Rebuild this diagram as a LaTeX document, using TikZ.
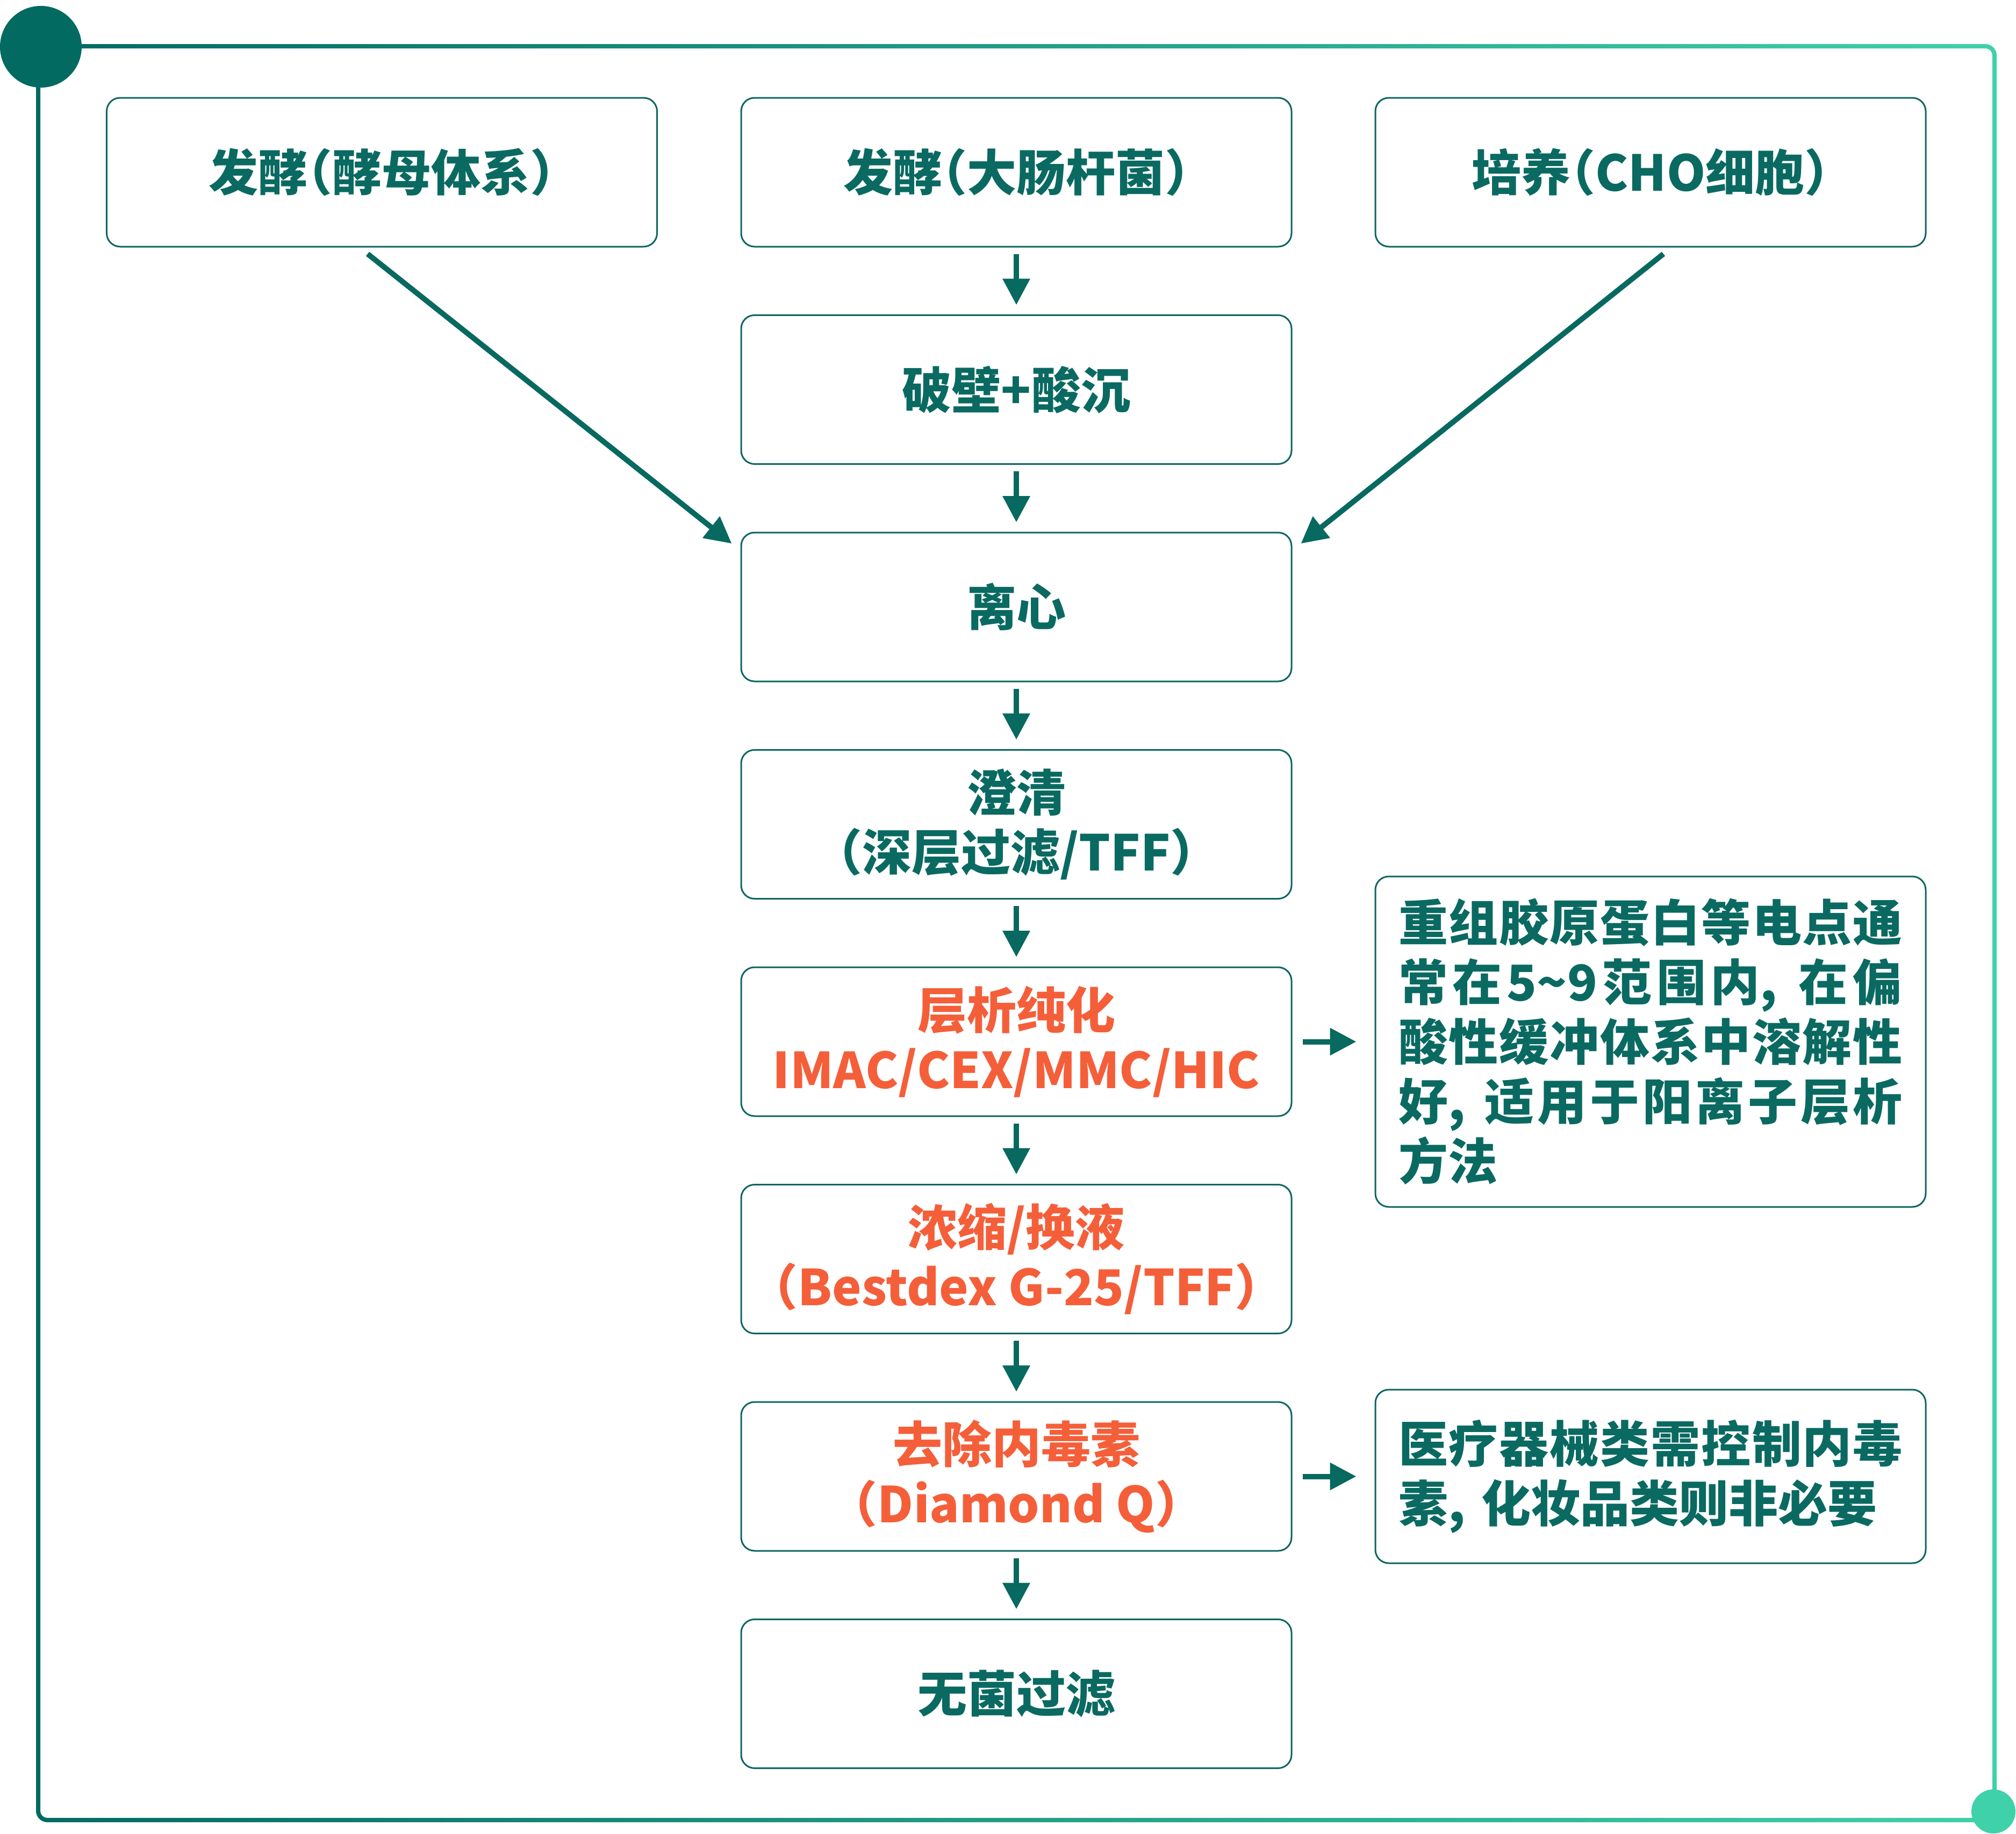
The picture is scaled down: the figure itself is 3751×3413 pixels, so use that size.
\documentclass[tikz,border=0pt]{standalone}
\usepackage{fontspec}
\setmainfont{Noto Sans CJK SC}[RawFeature=+halt]
\usetikzlibrary{arrows.meta,calc}
\definecolor{tealT}{HTML}{0A6A62}
\definecolor{boxC}{HTML}{0E6660}
\definecolor{arrC}{HTML}{07695F}
\definecolor{orangeT}{HTML}{F45F3A}
\definecolor{frameDark}{HTML}{036A62}
\definecolor{frameLight}{HTML}{3FD1AA}
\newcommand\boxfont{\fontsize{18.4pt}{22.2pt}\selectfont\bfseries}
\newcommand\jline[1]{\makebox[187.6pt][s]{#1}}
\begin{document}
\begin{tikzpicture}[x=0.2pt,y=-0.2pt,
  box/.style={draw=boxC, line width=0.6pt, rounded corners=5pt,
    minimum width=204.8pt, minimum height=55.4pt, align=center,
    inner sep=0pt, text=tealT, font=\boxfont},
  hot/.style={box, text=orangeT},
  note/.style={draw=boxC, line width=0.6pt, rounded corners=5pt,
    minimum width=204.8pt, inner sep=0pt, text=tealT, font=\boxfont,
    text width=187.6pt, align=left},
  arr/.style={draw=arrC, line width=2pt,
    -{Triangle[length=9.8pt,width=9.8pt]}},
  varr/.style={arr, shorten <=2.4pt, shorten >=3.5pt},
  harr/.style={arr, shorten <=3.8pt, shorten >=6.8pt}]
\fill[white] (0,0) rectangle (3751,3413);
\useasboundingbox (0,0) rectangle (3751,3413);
% frame with gradient
\shade[left color=frameDark, right color=frameLight, even odd rule]
  [rounded corners=4.2pt] (67,82) rectangle (3715,3391)
  [rounded corners=2.6pt] (75,90) rectangle (3707,3383);
\fill[frameDark] (76,87) circle (15.2pt);
\fill[frameLight] (3709,3371) circle (8.2pt);
% boxes
\node[box] (b1) at (710.5,320.5) {发酵（酵母体系）};
\node[box] (b2) at (1891,320.5) {发酵（大肠杆菌）};
\node[box] (b3) at (3071,320.5) {培养（CHO细胞）};
\node[box] (m2) at (1891,725) {破壁+酸沉};
\node[box] (m3) at (1891,1129.5) {离心};
\node[box] (m4) at (1891,1534) {澄清\\（深层过滤/TFF）};
\node[hot] (m5) at (1891,1938.5) {层析纯化\\IMAC/CEX/MMC/HIC};
\node[hot] (m6) at (1891,2343) {浓缩/换液\\（Bestdex G-25/TFF）};
\node[hot] (m7) at (1891,2747.5) {去除内毒素\\（Diamond Q）};
\node[box] (m8) at (1891,3152) {无菌过滤};
% notes
\node[note, minimum height=123pt] (n1) at (3071,1938.5) {%
\jline{重\hfil 组\hfil 胶\hfil 原\hfil 蛋\hfil 白\hfil 等\hfil 电\hfil 点\hfil 通}\\
\jline{常\hfil 在\hfil 5\textasciitilde 9\hfil 范\hfil 围\hfil 内,\ \hfil 在\hfil 偏}\\
\jline{酸\hfil 性\hfil 缓\hfil 冲\hfil 体\hfil 系\hfil 中\hfil 溶\hfil 解\hfil 性}\\
\jline{好,\ \hfil 适\hfil 用\hfil 于\hfil 阳\hfil 离\hfil 子\hfil 层\hfil 析}\\
方法};
\node[note, minimum height=64.6pt] (n2) at (3071,2747.5) {%
\jline{医\hfil 疗\hfil 器\hfil 械\hfil 类\hfil 需\hfil 控\hfil 制\hfil 内\hfil 毒}\\
素, 化妆品类则非必要};
% vertical arrows
\draw[varr] (b2.south) -- (m2.north);
\draw[varr] (m2.south) -- (m3.north);
\draw[varr] (m3.south) -- (m4.north);
\draw[varr] (m4.south) -- (m5.north);
\draw[varr] (m5.south) -- (m6.north);
\draw[varr] (m6.south) -- (m7.north);
\draw[varr] (m7.south) -- (m8.north);
% diagonal arrows
\coordinate (d1s) at ($(b1.south)+(-26.5,12)$);
\coordinate (d1e) at ($(m3.north west)+(-16,22)$);
\coordinate (d2s) at ($(b3.south)+(24,12)$);
\coordinate (d2e) at ($(m3.north east)+(16,22)$);
\draw[arr] (d1s) -- (d1e);
\draw[arr] (d2s) -- (d2e);
% horizontal arrows
\draw[harr] (m5.east) -- (n1.west);
\draw[harr] (m7.east) -- (n2.west);
\end{tikzpicture}
\end{document}
